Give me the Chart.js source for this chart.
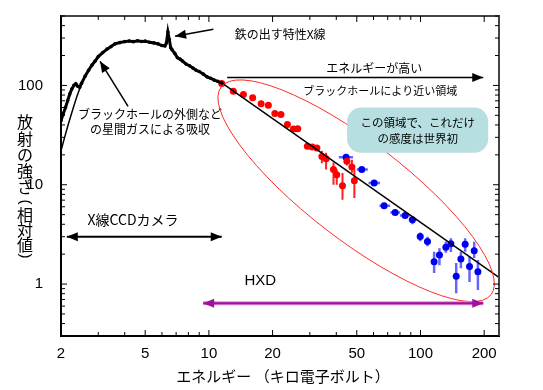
<!DOCTYPE html>
<html>
<head>
<meta charset="utf-8">
<script src="https://cdn.jsdelivr.net/npm/chart.js@4/dist/chart.umd.min.js"></script>
<style>
  html, body { margin: 0; padding: 0; background: #fff; }
  canvas { display: block; }
</style>
</head>
<body>
<canvas id="c" width="543" height="390"></canvas>
<script>
// X線CCDカメラのスペクトル (keV, 相対値)
const specE = [2.0, 2.05, 2.1, 2.15, 2.2, 2.25, 2.3, 2.35, 2.4, 2.45, 2.5, 2.6, 2.7, 2.8, 2.9, 3.0,
  3.15, 3.3, 3.45, 3.6, 3.8, 4.0, 4.2, 4.4, 4.6, 4.8, 5.0, 5.25, 5.5, 5.75, 6.0, 6.2, 6.3, 6.4,
  6.5, 6.6, 6.7, 6.9, 7.1, 7.3, 7.5, 7.8, 8.1, 8.4, 8.7, 9.0, 9.4, 9.8, 10.2, 10.6, 11.0, 11.5];
const specF = [44, 52, 60, 70, 82, 92, 100, 104, 98, 96, 105, 124, 142, 160, 176, 195,
  214, 232, 246, 262, 270, 276, 280, 276, 281, 277, 279, 272, 268, 262, 252, 250, 268, 345,
  290, 240, 228, 210, 190, 184, 176, 164, 158, 150, 142, 138, 130, 122, 118, 113, 110, 106];

// 低エネルギー側の吸収モデル
const absE = [2.0, 2.08, 2.16, 2.23, 2.3, 2.38, 2.46];
const absF = [22, 30, 40, 50, 62, 78, 95];

// べき関数モデル
const modelE = [11.5, 235];
const modelF = [106, 1.17];

// HXD (PIN) 赤
const redE = [11.5, 13.05, 14.56, 16.1, 17.65, 19.1, 20.5, 21.9, 23.5, 25.1, 26.3, 29.2, 30.8, 32.4,
  34.2, 35.8, 38.8, 40.2, 42.8, 44.9, 47.4, 48.7];
const redF = [104.8, 87.6, 81.1, 75.2, 65.3, 63.2, 52.1, 50.9, 40.4, 36.5, 36.7, 24.4, 24.0, 23.5,
  19.3, 18.3, 14.2, 12.6, 9.77, 17.2, 15.1, 11.0];
const redLo = [103, 86, 79, 73, 63.5, 61.5, 50.5, 49.5, 39, 35.3, 35.5, 23.3, 22.9, 22.3,
  16.5, 14.2, 10.0, 10.0, 7.07, 15.6, 13.2, 7.36];
const redHi = [107, 89.5, 83, 77.5, 67.5, 65, 54, 52.5, 42, 37.8, 38, 25.6, 25.2, 24.8,
  22.0, 21.0, 16.7, 14.2, 13.1, 19.0, 17.9, 14.2];

// HXD (GSO) 青
const blueE = [44.5, 52.8, 60.4, 67.3, 75.9, 84.6, 91.6, 99.7, 107.9, 116, 122.9, 131.8, 139.2,
  147.5, 155.2, 162.6, 170.5, 179.4, 186.8];
const blueF = [18.9, 14.2, 10.4, 6.14, 5.25, 4.90, 4.43, 3.01, 2.68, 1.68, 1.96, 2.35, 2.54,
  1.20, 1.79, 2.52, 1.50, 2.17, 1.33];
const blueLo = [17.5, 13.4, 9.8, 5.8, 4.95, 4.6, 4.0, 2.7, 2.4, 1.29, 1.55, 2.07, 2.1,
  0.81, 1.44, 2.12, 1.05, 1.83, 0.87];
const blueHi = [20.3, 15.0, 11.0, 6.5, 5.55, 5.2, 4.8, 3.3, 3.0, 2.12, 2.30, 2.68, 2.9,
  1.63, 2.12, 2.9, 1.89, 2.66, 1.75];
const blueELo = [41.1, 50.0, 56.8, 64.0, 72.0, 80.0, 88.0, 96.5, 104, 113, 119.5, 128, 135.5,
  144, 151, 158.5, 166, 175, 182];
const blueEHi = [48.0, 56.4, 64.4, 71.9, 80.0, 89.0, 96.0, 103, 112, 119.5, 126.5, 136, 143,
  151, 159.5, 167, 175, 184, 192];

const xTicks = [2, 5, 10, 20, 50, 100, 200];
const yTicks = [1, 10, 100];

const JP = '"Noto Sans CJK JP", sans-serif';
const LAT = '"Liberation Sans", Arial, sans-serif';

function pts(xs, ys) { return xs.map((x, i) => ({ x: x, y: ys[i] })); }

// 目盛り（内向き、四辺）と枠
const frameTicks = {
  id: 'frameTicks',
  afterDraw(chart) {
    const { ctx, chartArea: a, scales } = chart;
    ctx.save();
    ctx.strokeStyle = '#444';
    ctx.lineWidth = 2;
    ctx.beginPath();
    ctx.moveTo(a.left, a.top); ctx.lineTo(a.right, a.top); ctx.lineTo(a.right, a.bottom);
    ctx.stroke();
    ctx.lineWidth = 1;
    const each = (s, labeled, fn) => {
      for (let d = Math.floor(Math.log10(s.min)); d <= Math.ceil(Math.log10(s.max)); d++) {
        for (let m = 1; m < 10; m++) {
          const v = m * Math.pow(10, d);
          if (v < s.min * 0.999 || v > s.max * 1.001) continue;
          fn(s.getPixelForValue(v), (m === 1 || labeled.includes(v)) ? 6 : 4);
        }
      }
    };
    ctx.strokeStyle = '#000';
    ctx.beginPath();
    each(scales.x, xTicks, (p, L) => {
      ctx.moveTo(p, a.bottom); ctx.lineTo(p, a.bottom - L);
      ctx.moveTo(p, a.top); ctx.lineTo(p, a.top + L);
    });
    each(scales.y, yTicks, (p, L) => {
      ctx.moveTo(a.left, p); ctx.lineTo(a.left + L, p);
      ctx.moveTo(a.right, p); ctx.lineTo(a.right - L, p);
    });
    ctx.stroke();
    ctx.restore();
  }
};

// 誤差棒
const errorBars = {
  id: 'errorBars',
  beforeDatasetsDraw(chart) {
    const { ctx, scales: { x, y } } = chart;
    ctx.save();
    chart.data.datasets.forEach(ds => {
      if (!ds.errLo) return;
      ctx.strokeStyle = ds.errColor;
      ctx.lineWidth = ds.errWidth;
      ctx.beginPath();
      ds.data.forEach((p, i) => {
        const px = x.getPixelForValue(p.x), py = y.getPixelForValue(p.y);
        ctx.moveTo(px, y.getPixelForValue(ds.errLo[i]));
        ctx.lineTo(px, y.getPixelForValue(ds.errHi[i]));
        if (ds.errELo) {
          ctx.moveTo(x.getPixelForValue(ds.errELo[i]), py);
          ctx.lineTo(x.getPixelForValue(ds.errEHi[i]), py);
        }
      });
      ctx.stroke();
    });
    ctx.restore();
  }
};

function arrow(ctx, x1, y1, x2, y2, color, both) {
  const head = (xa, ya, xb, yb) => {
    const ang = Math.atan2(yb - ya, xb - xa);
    ctx.beginPath();
    ctx.moveTo(xb, yb);
    ctx.lineTo(xb - 11 * Math.cos(ang) + 4.5 * Math.sin(ang), yb - 11 * Math.sin(ang) - 4.5 * Math.cos(ang));
    ctx.lineTo(xb - 11 * Math.cos(ang) - 4.5 * Math.sin(ang), yb - 11 * Math.sin(ang) + 4.5 * Math.cos(ang));
    ctx.closePath();
    ctx.fillStyle = color;
    ctx.fill();
  };
  ctx.beginPath();
  ctx.moveTo(x1, y1); ctx.lineTo(x2, y2);
  ctx.stroke();
  head(x1, y1, x2, y2);
  if (both) head(x2, y2, x1, y1);
}

// 注記
const notes = {
  id: 'notes',
  afterDraw(chart) {
    const { ctx, scales: { x, y } } = chart;
    const X = v => x.getPixelForValue(v), Y = v => y.getPixelForValue(v);
    ctx.save();

    // 楕円
    const t1x = X(11.43), t1y = Y(96.6), t2x = X(215.6), t2y = Y(0.783);
    ctx.strokeStyle = '#ff2a2a';
    ctx.lineWidth = 1;
    ctx.beginPath();
    ctx.ellipse((t1x + t2x) / 2, (t1y + t2y) / 2, Math.hypot(t2x - t1x, t2y - t1y) / 2, 49,
      Math.atan2(t2y - t1y, t2x - t1x), 0, Math.PI * 2);
    ctx.stroke();

    // 吹き出し
    const bx1 = X(45.0), bx2 = X(209), by1 = Y(59.9), by2 = Y(21.0);
    ctx.fillStyle = '#b7dee1';
    ctx.beginPath();
    ctx.roundRect(bx1, by1, bx2 - bx1, by2 - by1, 14);
    ctx.fill();

    ctx.fillStyle = '#000';
    ctx.textAlign = 'center';
    ctx.textBaseline = 'middle';
    ctx.font = '11.5px ' + JP;
    ctx.fillText('この領域で、これだけ', (bx1 + bx2) / 2, by1 + 15);
    ctx.fillText('の感度は世界初', (bx1 + bx2) / 2, by1 + 31);

    ctx.font = '12px ' + JP;
    ctx.fillText('鉄の出す特性X線', X(21.7), Y(327));
    ctx.fillText('エネルギーが高い', X(60.4), Y(148.5));
    ctx.font = '11px ' + JP;
    ctx.fillText('ブラックホールにより近い領域', X(64.5), Y(89));
    ctx.font = '12px ' + JP;
    ctx.fillText('ブラックホールの外側など', X(5.27), Y(50.9));
    ctx.fillText('の星間ガスによる吸収', X(5.27), Y(35.9));
    ctx.font = '14px ' + JP;
    ctx.fillText('X線CCDカメラ', X(4.38), Y(4.43));
    ctx.font = '15px ' + LAT;
    ctx.fillText('HXD', X(17.5), Y(1.07));

    // 矢印
    ctx.strokeStyle = '#000';
    ctx.lineWidth = 1.5;
    arrow(ctx, X(10.5), Y(368), X(6.92), Y(312.6), '#000', false);
    arrow(ctx, X(4.15), Y(61.4), X(3.06), Y(174.7), '#000', false);
    arrow(ctx, X(12.2), Y(120.5), X(198), Y(120.5), '#000', false);
    ctx.lineWidth = 2;
    arrow(ctx, X(2.13), Y(3.0), X(11.5), Y(3.0), '#000', true);
    ctx.strokeStyle = '#d98cd9';
    ctx.lineWidth = 4;
    ctx.beginPath(); ctx.moveTo(X(9.4), Y(0.64)); ctx.lineTo(X(198), Y(0.64)); ctx.stroke();
    ctx.strokeStyle = '#a010a0';
    ctx.lineWidth = 2;
    arrow(ctx, X(9.4), Y(0.64), X(198), Y(0.64), '#a010a0', true);

    // 軸タイトル
    ctx.fillStyle = '#000';
    ctx.font = '15px ' + JP;
    ctx.fillText('エネルギー （キロ電子ボルト）', 283, 376);
    const yChars = ['放', '射', 'の', '強', 'さ', '(', '相', '対', '値', ')'];
    const yPos = [122, 139, 155, 171, 187, 202, 215, 230, 245, 256];
    yChars.forEach((c, i) => {
      if (c === '(' || c === ')') {
        ctx.save();
        ctx.translate(25, yPos[i]);
        ctx.rotate(Math.PI / 2);
        ctx.font = '15px ' + LAT;
        ctx.fillText(c, 0, 0);
        ctx.restore();
      } else {
        ctx.font = '16px ' + JP;
        ctx.fillText(c, 25, yPos[i]);
      }
    });

    ctx.restore();
  }
};

new Chart(document.getElementById('c'), {
  type: 'line',
  data: {
    datasets: [
      { label: 'model', data: pts(modelE, modelF), borderColor: '#000', borderWidth: 1.5, pointRadius: 0 },
      { label: 'absorption', data: pts(absE, absF), borderColor: '#000', borderWidth: 1.5, pointRadius: 0 },
      { label: 'XIS', data: pts(specE, specF), borderColor: '#000', borderWidth: 3, pointRadius: 1.8,
        pointBackgroundColor: '#000', pointBorderWidth: 0 },
      { label: 'PIN', type: 'scatter', data: pts(redE, redF), backgroundColor: '#ff0000', borderWidth: 0,
        pointRadius: 3.5, errLo: redLo, errHi: redHi, errColor: '#ff2020', errWidth: 2 },
      { label: 'GSO', type: 'scatter', data: pts(blueE, blueF), backgroundColor: '#0000f0', borderWidth: 0,
        pointRadius: 3.5, errLo: blueLo, errHi: blueHi, errELo: blueELo, errEHi: blueEHi,
        errColor: '#6666ff', errWidth: 2.5 }
    ]
  },
  options: {
    responsive: false,
    devicePixelRatio: 1,
    animation: false,
    layout: { padding: { left: 0, top: 16, right: 44, bottom: 0 } },
    plugins: { legend: { display: false }, tooltip: { enabled: false } },
    scales: {
      x: {
        type: 'logarithmic', min: 2, max: 235,
        grid: { display: false, drawTicks: false },
        border: { display: true, color: '#000', width: 2 },
        ticks: { color: '#000', font: { family: LAT, size: 15 }, padding: 9, autoSkip: false, maxRotation: 0,
          callback: v => xTicks.includes(v) ? String(v) : '' },
        afterBuildTicks: s => { s.ticks = xTicks.map(v => ({ value: v })); },
        afterFit: s => { s.height = 54; s.paddingLeft = 0; s.paddingRight = 0; }
      },
      y: {
        type: 'logarithmic', min: 0.3, max: 500,
        grid: { display: false, drawTicks: false },
        border: { display: true, color: '#000', width: 2 },
        ticks: { color: '#000', font: { family: LAT, size: 15 }, padding: 18, autoSkip: false,
          callback: v => yTicks.includes(v) ? String(v) : '' },
        afterBuildTicks: s => { s.ticks = yTicks.map(v => ({ value: v })); },
        afterFit: s => { s.width = 61; s.paddingTop = 0; s.paddingBottom = 0; }
      }
    }
  },
  plugins: [errorBars, notes, frameTicks]
});
</script>
</body>
</html>
